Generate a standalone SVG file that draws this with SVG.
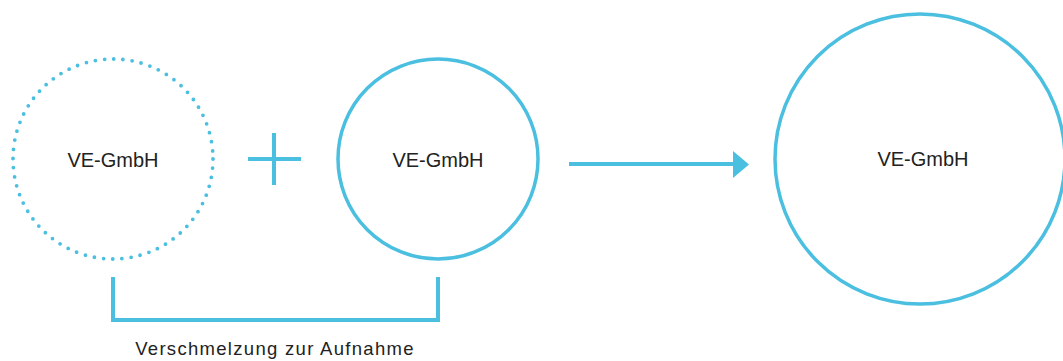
<svg xmlns="http://www.w3.org/2000/svg" width="1063" height="361" viewBox="0 0 1063 361">
<style>
.c{fill:none;stroke:#4bbfe0;stroke-width:3.5}
.dot{fill:none;stroke:#4bbfe0;stroke-width:3.8;stroke-linecap:round;stroke-dasharray:0 9.24}
.ln{fill:none;stroke:#4bbfe0;stroke-width:4}
.t{font-family:"Liberation Sans",Arial,sans-serif;font-size:20px;fill:#222;text-anchor:middle}
.lbl{font-family:"Liberation Sans",Arial,sans-serif;font-size:18.5px;letter-spacing:1.3px;fill:#222;text-anchor:middle}
</style>
<rect width="1063" height="361" fill="#fff"/>
<g id="node-ve1">
<circle class="dot" cx="113" cy="159" r="100"/>
<text class="t" x="113" y="167">VE-GmbH</text>
</g>
<g id="node-plus">
<path class="ln" d="M248 159H301M274 133V185" stroke-width="3"/>
</g>
<g id="node-ve2">
<circle class="c" cx="438" cy="159" r="100"/>
<text class="t" x="438" y="167">VE-GmbH</text>
</g>
<g id="node-ve3">
<circle class="c" cx="920" cy="159" r="145"/>
<text class="t" x="923" y="166">VE-GmbH</text>
</g>
<g id="connectors">
<path class="ln" d="M569 164H736"/>
<path d="M733 151L749 164.5L733 178Z" fill="#4bbfe0"/>
<path class="ln" d="M113 277V320H438V277"/>
</g>
<g id="label">
<text class="lbl" x="275" y="355">Verschmelzung zur Aufnahme</text>
</g>
</svg>
